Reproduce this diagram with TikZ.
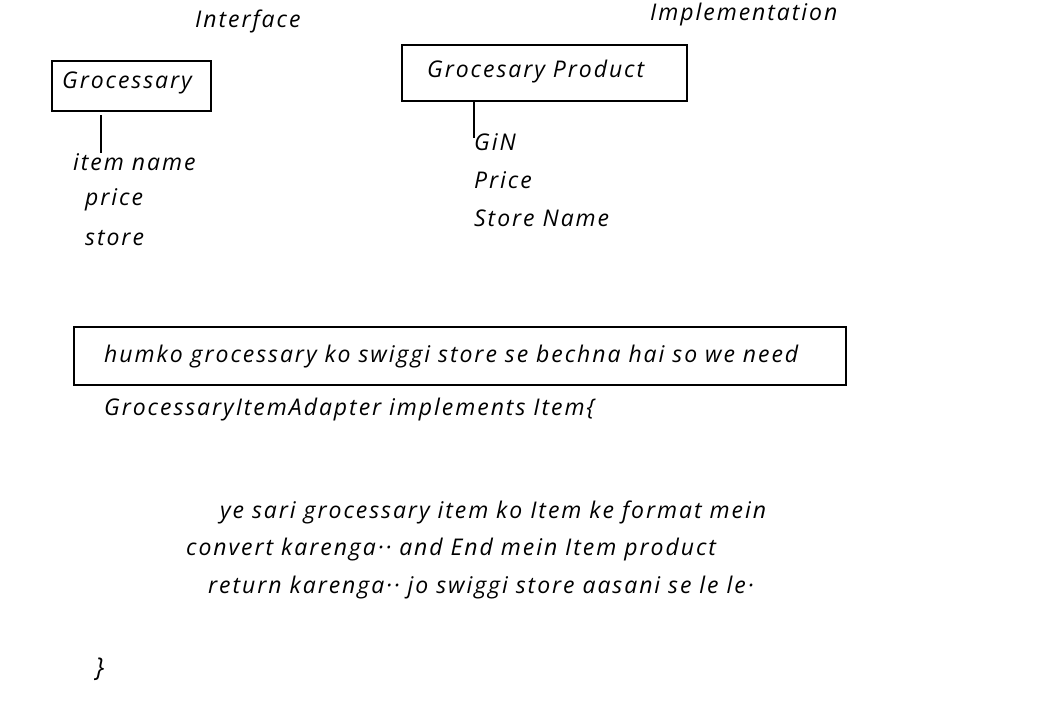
\documentclass[tikz,border=0pt]{standalone}
\usepackage{fontspec}
\setmainfont{Open Sans}[LetterSpace=8.5]
\begin{document}
\begin{tikzpicture}[x=1pt,y=-1pt,
  txt/.style={anchor=west,inner sep=0pt,yshift=-2pt,font=\fontsize{23}{27}\selectfont\itshape},
  boxline/.style={line width=1.5pt},
  link/.style={line width=1.8pt}]
\useasboundingbox (0,0) rectangle (1044,721);
\node[txt] (intf) at (195,19) {Interface};
\node[txt] (impl) at (650,13) {Implementation};
% Grocessary box
\draw[boxline] (52,61) rectangle (211,111);
\node[txt] (groc) at (62,81) {Grocessary};
\node[txt] (item) at (73,160) {item name};
\node[txt] (price) at (85,198) {price};
\node[txt] (store) at (85,236) {store};
\coordinate (gtop) at (101,115);
\coordinate (gbot) at (101,153);
\draw[link] (gtop) -- (gbot);
% Grocesary Product box
\draw[boxline] (402,45) rectangle (687,101);
\node[txt] (prod) at (427,70) {Grocesary Product};
\node[txt] (gin) at (474,140) {GiN};
\node[txt] (pprice) at (474,178) {Price};
\node[txt] (sname) at (474,216) {Store Name};
\coordinate (ptop) at (474,100);
\coordinate (pbot) at (474,138);
\draw[link] (ptop) -- (pbot);
% need box
\draw[boxline] (74,327) rectangle (846,385);
\node[txt] (need) at (104,355) {humko grocessary ko swiggi store se bechna hai so we need};
\node[txt] (adapt) at (104,408) {GrocessaryItemAdapter implements Item\{};
\node[txt] (l1) at (220,510) {ye sari grocessary item ko Item ke format mein};
\node[txt] (l2) at (186,548) {convert karenga·· and End mein Item product};
\node[txt] (l3) at (208,586) {return karenga·· jo swiggi store aasani se le le·};
\node[txt,font=\fontsize{26}{30}\selectfont\itshape] (close) at (95,667) {\}};
\end{tikzpicture}
\end{document}
